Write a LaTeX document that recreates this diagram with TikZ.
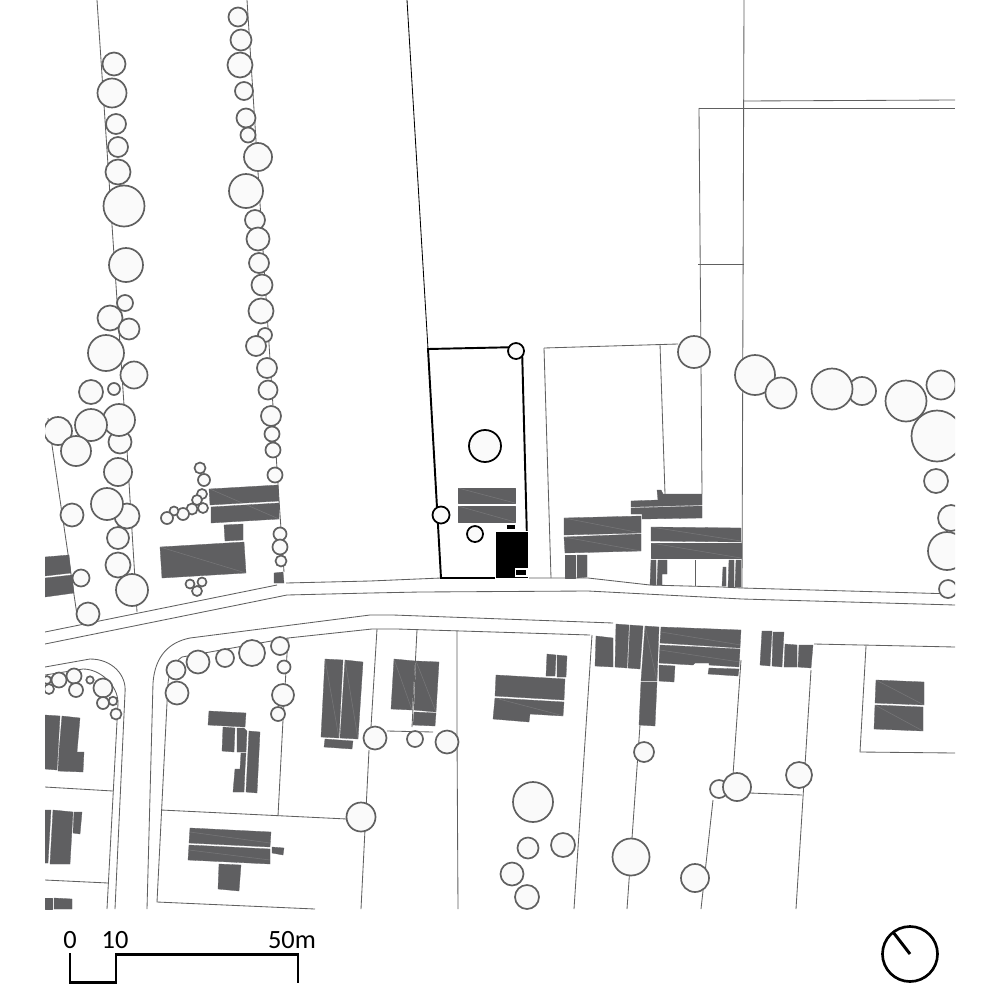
\documentclass[tikz,border=0pt]{standalone}
\usepackage{fontspec}
\setmainfont{Carlito}
\usetikzlibrary{positioning}

\definecolor{roofgray}{HTML}{5F5F61}
\definecolor{treegray}{HTML}{606060}
\definecolor{linegray}{HTML}{606060}
\definecolor{treefill}{HTML}{FAFAFA}

\begin{document}
\begin{tikzpicture}[
        x=0.01cm, y=-0.01cm,
        lot/.style={draw=linegray, line width=0.24pt},
        tree/.style={draw=treegray, fill=treefill, line width=0.48pt},
        building/.style={fill=roofgray, draw=roofgray, line width=0.08pt, line join=round},
        hip/.style={draw=white, opacity=0.15, line width=0.15pt},
        site/.style={draw=black, line width=0.55pt},
        sitetree/.style={draw=black, fill=treefill, line width=0.5pt},
        solid/.style={fill=black, draw=white, line width=0.2pt},
        bar/.style={draw=black, line width=0.85pt},
        scaletext/.style={font=\fontsize{7.5pt}{8pt}\selectfont, inner sep=0pt}
    ]
    \useasboundingbox (0,0) rectangle (1000,1000);
    \fill[white] (0,0) rectangle (1000,1000);
    \begin{scope}
    \clip (45,0) rectangle (955,909);
    % north side of the road
    \draw[lot] (45,632) -- (277,585);
    \draw[lot] (286,583) -- (370,581) -- (441,578) -- (528,578) -- (588,578) -- (650,585) -- (722,587) -- (742,588) -- (955,594);
    \draw[lot] (45,644) -- (287,595) -- (370,593) -- (420,592) -- (588,591) -- (742,599) -- (955,605);
    % south side of the road
    \draw[lot] (190,638) -- (370,615) -- (393,615) -- (613,623);
    \draw[lot] (147,909) -- (153,683) .. controls (155,655) and (170,642) .. (190,638);
    \draw[lot] (315,909) -- (157,902) -- (168,683) .. controls (170,668) and (175,662) .. (182,657) -- (288,638) -- (372,629) -- (397,629) -- (590,635);
    \draw[lot] (814,644) -- (955,647);
    % left pocket
    \draw[lot] (45,667) -- (90,659) .. controls (112,659) and (127,675) .. (125,693) -- (115,909);
    \draw[lot] (45,675) -- (83,669) .. controls (100,669) and (118,685) .. (118,703) -- (107,909);
    \draw[lot] (45,787) -- (113,791);
    \draw[lot] (45,880) -- (108,883);
    % plots south of the road
    \draw[lot] (161,810) -- (347,819);
    \draw[lot] (278,816) -- (283,720) -- (288,638);
    \draw[lot] (377,629) -- (371,727);
    \draw[lot] (369,750) -- (361,909);
    \draw[lot] (417,630) -- (412,727);
    \draw[lot] (387,731) -- (433,732);
    \draw[lot] (457,631) -- (457,732) -- (458,909);
    \draw[lot] (592,635) -- (574,909);
    \draw[lot] (640,725) -- (627,909);
    \draw[lot] (741,660) -- (733,775);
    \draw[lot] (713,800) -- (701,909);
    \draw[lot] (750,793) -- (802,795);
    \draw[lot] (811,670) -- (796,909);
    \draw[lot] (866,646) -- (860,752) -- (955,753);
    % plots north of the road
    \draw[lot] (97,0) -- (127,450) -- (137,612);
    \draw[lot] (247,0) -- (279,500) -- (284,572);
    \draw[lot] (48,418) -- (77,615);
    \draw[lot] (544,348) -- (551,578);
    \draw[lot] (544,348) -- (678,344);
    \draw[lot] (660,344) -- (665,494);
    \draw[lot] (699,108) -- (702,494);
    \draw[lot] (699,108) -- (955,108);
    \draw[lot] (744,101) -- (955,100);
    \draw[lot] (698,264) -- (744,264);
    \draw[lot] (744,0) -- (742,588);
    \draw[lot] (695,560) -- (695,586);
    \draw[draw=black, line width=0.24pt] (407,0) -- (428,349);
    % trees
    \foreach \tx/\ty/\tr in {114/64/11.5, 112/93/14.5, 116/124/10, 118/147/10, 118/172/12.5, 124/206/20.5,
        126/265/17, 125/303/8, 110/318/12.5, 129/329/10.5, 106/353/18, 134/375/13.5, 91/392/12, 114/389/6,
        58/431/14, 120/442/11.5, 119/420/16, 91/425/16, 76/451/15, 118/472/14, 127/516/12.5, 107/504/16,
        72/515/11.5, 118/538/11, 118/565/12.5, 132/590/16, 81/578/8.5, 88/614/11.5,
        238/17/9.5, 241/40/10.5, 240/65/12.5, 244/91/9, 246/118/9.5, 248/135/7.5, 258/157/14, 246/191/17,
        255/220/10, 258/239/11.5, 259/263/10, 262/285/10.5, 265/335/7, 261/311/12.5, 256/346/10, 267/368/10,
        268/390/9.5, 271/416/10, 272/434/7.5, 273/450/7.5, 275/475/7.5, 280/534/6.5, 280/547/7.5, 281/561/5.5,
        200/468/5.5, 204/480/6, 202/494/5, 197/500/5, 203/508/5, 192/509/5.5, 183/514/6, 174/511/4.5, 167/518/6,
        190/584/4.5, 202/582/4.5, 197/591/5,
        694/352/16, 755/375/20, 781/393/15.5, 862/391/14, 832/389/20.5, 906/401/20.5, 941/385/14.5, 937/436/25.5,
        936/481/12, 951/518/13, 947/551/19, 948/589/9,
        47/680/4, 49/689/5, 59/680/7.5, 74/676/7.5, 76/690/7, 90/680/3.7, 103/688/9.5, 103/703/6, 113/701/4.3, 116/714/5.5,
        176/670/9.5, 177/693/11.5, 198/662/11.5, 225/658/9, 252/653/13, 280/646/9, 284/667/6.5, 283/695/11, 278/714/7,
        375/738/11.5, 415/739/8, 447/742/11.5, 361/817/14.5, 533/802/20, 528/848/10.5, 563/845/12, 512/874/11.5, 527/897/12,
        631/857/18.5, 644/752/10, 695/878/14, 719/789/9, 737/787/14, 799/775/13}
        \draw[tree] (\tx,\ty) circle (\tr);
    % buildings
    \foreach \roof in {
        {(209,489) -- (278,485) -- (279,501) -- (210,505)},
        {(211,507) -- (279,503) -- (279,519) -- (211,523)},
        {(224,525) -- (243,524) -- (243,540) -- (225,541)},
        {(160,547) -- (244,542) -- (246,573) -- (162,578)},
        {(274,573) -- (283,572) -- (284,583) -- (274,583)},
        {(45,557) -- (69,555) -- (71,573) -- (45,576)},
        {(45,578) -- (72,575) -- (74,593) -- (45,597)},
        {(458,488) -- (515,488) -- (515,503) -- (458,503)},
        {(458,506) -- (515,506) -- (515,522) -- (458,522)},
        {(564,518) -- (641,516) -- (641,533) -- (564,535)},
        {(564,537) -- (641,534) -- (641,551) -- (565,553)},
        {(565,555) -- (575,555) -- (575,578) -- (565,578)},
        {(577,555) -- (587,555) -- (587,577) -- (577,578)},
        {(657,490) -- (661,490) -- (663,494) -- (702,494) -- (702,505) -- (631,507) -- (631,501) -- (658,500)},
        {(631,508) -- (702,506) -- (702,518) -- (642,519) -- (642,514) -- (631,514)},
        {(651,527) -- (741,528) -- (741,542) -- (651,541)},
        {(651,543) -- (741,543) -- (741,558) -- (651,558)},
        {(651,560) -- (656,560) -- (656,585) -- (650,585)},
        {(658,560) -- (667,560) -- (667,574) -- (662,574) -- (662,585) -- (657,585)},
        {(723,567) -- (726,567) -- (726,586) -- (722,586)},
        {(729,560) -- (734,560) -- (734,587) -- (728,587)},
        {(736,560) -- (741,560) -- (741,587) -- (735,587)},
        {(596,636) -- (613,638) -- (613,667) -- (595,666)},
        {(616,624) -- (629,625) -- (627,668) -- (615,667)},
        {(630,625) -- (643,626) -- (640,669) -- (628,668)},
        {(645,626) -- (659,627) -- (657,681) -- (641,681)},
        {(641,682) -- (657,682) -- (655,726) -- (639,725)},
        {(661,627) -- (741,630) -- (740,648) -- (660,643)},
        {(660,645) -- (740,649) -- (739,667) -- (709,665) -- (709,663) -- (695,663) -- (693,665) -- (659,663)},
        {(659,665) -- (675,666) -- (674,682) -- (659,681)},
        {(709,668) -- (739,669) -- (738,676) -- (708,674)},
        {(496,675) -- (565,679) -- (564,700) -- (495,696)},
        {(495,698) -- (564,702) -- (563,716) -- (530,714) -- (529,722) -- (493,719)},
        {(547,654) -- (556,655) -- (555,676) -- (546,676)},
        {(557,655) -- (567,656) -- (566,677) -- (557,677)},
        {(325,659) -- (343,660) -- (339,738) -- (321,737)},
        {(345,660) -- (363,662) -- (358,739) -- (340,738)},
        {(325,739) -- (353,741) -- (352,749) -- (324,747)},
        {(394,659) -- (415,661) -- (412,710) -- (391,709)},
        {(416,661) -- (439,662) -- (436,712) -- (414,710)},
        {(414,712) -- (436,713) -- (435,726) -- (413,725)},
        {(762,631) -- (772,631) -- (770,666) -- (760,665)},
        {(773,632) -- (784,632) -- (782,667) -- (772,666)},
        {(785,644) -- (797,645) -- (797,667) -- (784,667)},
        {(799,645) -- (813,645) -- (811,668) -- (798,667)},
        {(876,680) -- (924,682) -- (924,705) -- (875,703)},
        {(875,705) -- (923,707) -- (923,731) -- (874,729)},
        {(45,715) -- (60,716) -- (57,770) -- (45,769)},
        {(62,716) -- (80,718) -- (77,752) -- (84,752) -- (83,772) -- (58,771) -- (59,751)},
        {(45,810) -- (51,810) -- (48,863) -- (45,863)},
        {(53,810) -- (73,812) -- (70,864) -- (50,864)},
        {(74,812) -- (82,812) -- (80,834) -- (73,833)},
        {(45,898) -- (52,898) -- (52,909) -- (45,909)},
        {(54,898) -- (72,899) -- (72,909) -- (54,909)},
        {(209,711) -- (246,713) -- (245,727) -- (208,725)},
        {(223,727) -- (235,728) -- (234,752) -- (222,751)},
        {(237,728) -- (244,728) -- (247,731) -- (246,752) -- (237,752)},
        {(241,753) -- (246,753) -- (245,769) -- (240,769)},
        {(235,769) -- (245,769) -- (244,792) -- (233,792)},
        {(249,731) -- (260,732) -- (257,793) -- (246,792)},
        {(190,828) -- (271,832) -- (270,847) -- (189,843)},
        {(189,845) -- (270,849) -- (270,864) -- (188,860)},
        {(272,847) -- (284,848) -- (283,855) -- (272,853)},
        {(219,864) -- (241,865) -- (239,891) -- (218,889)}}
        \path[building] \roof -- cycle;
    % faint hips on the larger roofs
    \foreach \ax/\ay/\bx/\by in {210/489/279/519, 160/547/246/573, 458/488/515/503, 458/506/515/522,
        651/527/741/541, 651/543/741/558, 564/518/641/533, 564/537/641/551, 876/680/924/705, 875/705/923/731,
        190/832/270/843, 189/850/270/860, 495/698/564/716, 325/659/339/738, 345/660/358/739,
        394/659/412/710, 416/661/436/712, 661/632/741/645, 660/650/740/662, 645/626/657/681}
        \draw[hip] (\ax,\ay) -- (\bx,\by);
    % the plot itself
    \draw[site] (428,349) -- (522,347) -- (528,578) -- (441,578) -- cycle;
    \foreach \tx/\ty/\tr in {516/351/8, 441/515/8.5, 485/446/16, 475/534/8}
        \draw[sitetree] (\tx,\ty) circle (\tr);
    \fill[solid] (495,531) -- (528,531) -- (528,578) -- (495,578) -- cycle;
    \fill[solid] (506,524) -- (515,524) -- (515,529) -- (506,529) -- cycle;
    \draw[white, line width=0.4pt, fill=black] (515.5,569) rectangle (527,576);
    \end{scope}
    % scale and north
    \coordinate (zero) at (70,953);
    \coordinate (ten) at (116,954);
    \coordinate (fifty) at (298,954);
    \draw[bar] (zero) -- (70,982) -- (116,982) -- (ten) -- (fifty) -- (298,983);
    \node[scaletext] (zerolabel) at (70,940) {0};
    \node[scaletext] (tenlabel) at (115,940) {10};
    \node[scaletext] (fiftylabel) at (292,940) {50m};
    \node[draw=black, line width=0.75pt, circle, minimum size=0.55cm, inner sep=0pt] (compass) at (910,954) {};
    \coordinate (needle) at (893,932);
    \draw[bar] (needle) -- (compass.center);
\end{tikzpicture}
\end{document}
